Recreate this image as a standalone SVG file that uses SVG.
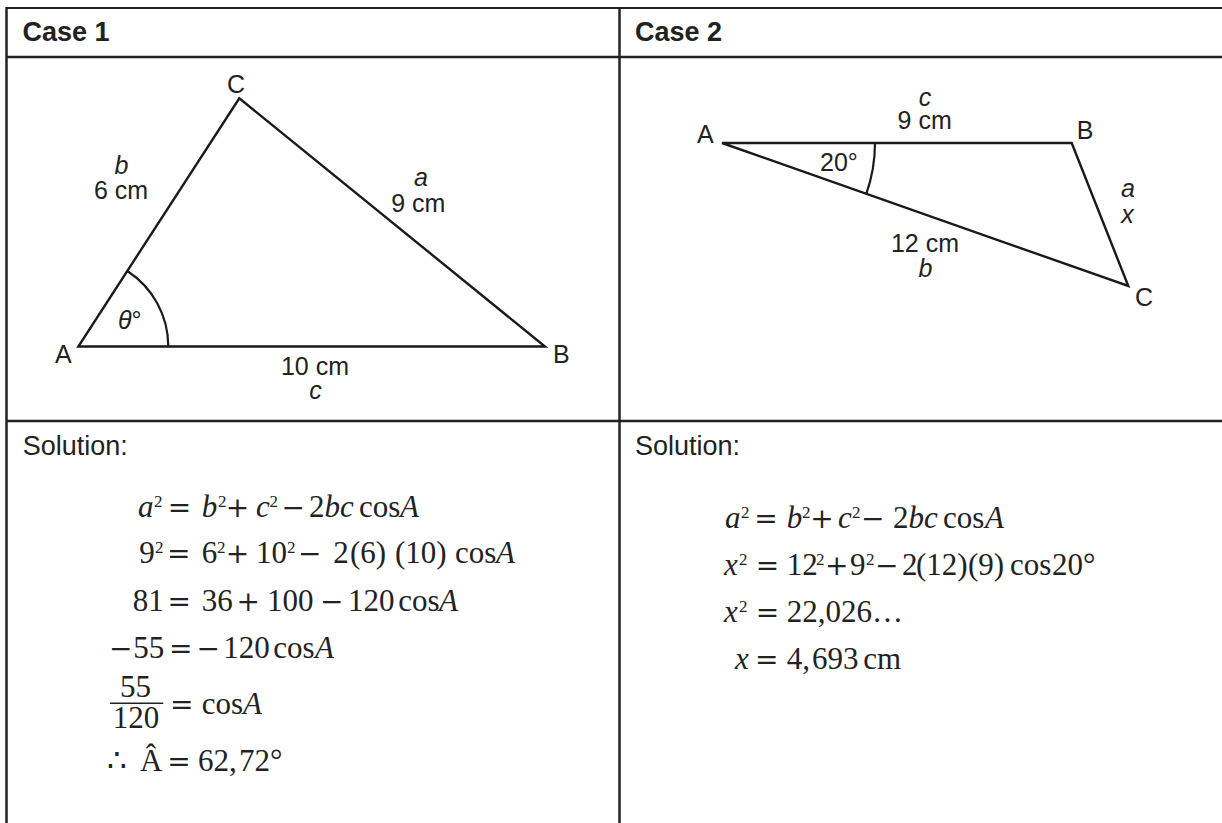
<svg xmlns="http://www.w3.org/2000/svg" width="1222" height="823" viewBox="0 0 1222 823">
<style>
.bg{fill:#fff}
.grid{stroke:#222;stroke-width:2.5;fill:none}
.edge{stroke:#1a1a1a;stroke-width:2.4;fill:none;stroke-linejoin:miter}
.arc{stroke:#1a1a1a;stroke-width:2.2;fill:none}
.hd{font-family:"Liberation Sans",Arial,sans-serif;font-weight:bold;font-size:27px;fill:#222}
.sol{font-family:"Liberation Sans",Arial,sans-serif;font-size:27px;fill:#222}
.lb{font-family:"Liberation Sans",Arial,sans-serif;font-size:25px;fill:#222}
.lbm{font-family:"Liberation Sans",Arial,sans-serif;font-size:25px;fill:#222;text-anchor:middle}
.it{font-style:italic}
.m{font-family:"Liberation Serif","Times New Roman","DejaVu Serif",serif;font-size:31px;fill:#222}
.o{font-family:"DejaVu Serif",serif;font-size:28px}
.s{font-size:17px}
</style>
<rect class="bg" x="0" y="0" width="1222" height="823"/>

<g id="table">
  <line class="grid" x1="6" y1="8" x2="1222" y2="8" style="stroke-width:2"/>
  <line class="grid" x1="6" y1="57" x2="1222" y2="57"/>
  <line class="grid" x1="6" y1="421" x2="1222" y2="421"/>
  <line class="grid" x1="6.5" y1="7" x2="6.5" y2="823"/>
  <line class="grid" x1="619.5" y1="7" x2="619.5" y2="823"/>
</g>

<g id="case1-header">
  <text class="hd" x="22.5" y="41">Case 1</text>
</g>
<g id="case2-header">
  <text class="hd" x="635" y="41">Case 2</text>
</g>

<g id="case1-figure">
  <polygon class="edge" points="78.3,346.5 545,346.5 239.3,98.3"/>
  <path class="arc" d="M168.3,346.5 A90,90 0 0,0 127.3,271"/>
  <text class="lbm" x="236" y="92.7">C</text>
  <text class="lbm it" x="121.5" y="174">b</text>
  <text class="lbm" x="121" y="199.3">6 cm</text>
  <text class="lbm it" x="421" y="186">a</text>
  <text class="lbm" x="418.3" y="212">9 cm</text>
  <text class="lb" x="55" y="363.3">A</text>
  <text class="lb" x="118" y="329.3"><tspan class="it">θ</tspan>°</text>
  <text class="lbm" x="315" y="375">10 cm</text>
  <text class="lbm it" x="315.5" y="399.3">c</text>
  <text class="lb" x="553" y="362.7">B</text>
</g>

<g id="case2-figure">
  <polygon class="edge" points="722,143 1071.7,143 1128.3,286"/>
  <path class="arc" d="M875,143 A153,153 0 0,1 866.3,193.8"/>
  <text class="lb" x="697" y="143.3">A</text>
  <text class="lb" x="1076.7" y="139.3">B</text>
  <text class="lbm it" x="925" y="106">c</text>
  <text class="lbm" x="924.7" y="129.3">9 cm</text>
  <text class="lb" x="820" y="170.7">20°</text>
  <text class="lbm it" x="1128" y="196.7">a</text>
  <text class="lbm it" x="1127.5" y="222.7">x</text>
  <text class="lbm" x="925" y="251.7">12 cm</text>
  <text class="lbm it" x="925.5" y="276.7">b</text>
  <text class="lb" x="1135" y="306">C</text>
</g>

<g id="case1-solution">
  <text class="sol" x="22.7" y="455">Solution:</text>
  <text class="m" y="517"><tspan x="138" class="it">a</tspan><tspan x="154" y="507" class="s">2</tspan><tspan x="167.8" y="517" class="o">=</tspan><tspan x="201.7" class="it">b</tspan><tspan x="218" y="507" class="s">2</tspan><tspan x="225.8" y="517" class="o">+</tspan><tspan x="256" class="it">c</tspan><tspan x="269.5" y="507" class="s">2</tspan><tspan x="281.6" y="517" class="o">−</tspan><tspan x="309">2</tspan><tspan class="it">bc</tspan><tspan x="359">cos</tspan><tspan x="400" class="it">A</tspan></text>
  <text class="m" y="563.3"><tspan x="139.3">9</tspan><tspan x="155" y="553.3" class="s">2</tspan><tspan x="167.1" y="563.3" class="o">=</tspan><tspan x="201.7">6</tspan><tspan x="217" y="553.3" class="s">2</tspan><tspan x="225.8" y="563.3" class="o">+</tspan><tspan x="256">10</tspan><tspan x="287" y="553.3" class="s">2</tspan><tspan x="298" y="563.3" class="o">−</tspan><tspan x="333.3">2</tspan><tspan x="350">(6)</tspan><tspan x="395">(10)</tspan><tspan x="455">cos</tspan><tspan x="496" class="it">A</tspan></text>
  <text class="m" y="611"><tspan x="132.7">81</tspan><tspan x="167.5" class="o">=</tspan><tspan x="201.7">36</tspan><tspan x="236.6" class="o">+</tspan><tspan x="267">100</tspan><tspan x="320" class="o">−</tspan><tspan x="348">120</tspan><tspan x="398.3">cos</tspan><tspan x="439" class="it">A</tspan></text>
  <text class="m" y="658.3"><tspan x="109.1" class="o">−</tspan><tspan x="133.3">55</tspan><tspan x="169.1" class="o">=</tspan><tspan x="196.6" class="o">−</tspan><tspan x="223.3">120</tspan><tspan x="273.3">cos</tspan><tspan x="315" class="it">A</tspan></text>
  <text class="m" x="120" y="696.7">55</text>
  <line x1="110" y1="703.3" x2="163.3" y2="703.3" stroke="#222" stroke-width="1.6"/>
  <text class="m" x="112.7" y="728.3">120</text>
  <text class="m" y="713.5"><tspan x="170" class="o">=</tspan><tspan x="201.7">cos</tspan><tspan x="243" class="it">A</tspan></text>
  <text class="m" y="770.7"><tspan x="107">∴</tspan><tspan x="140">Â</tspan><tspan x="167.3" class="o">=</tspan><tspan x="198">62,</tspan><tspan x="239">72</tspan><tspan x="270">°</tspan></text>
</g>

<g id="case2-solution">
  <text class="sol" x="635" y="455">Solution:</text>
  <text class="m" y="528"><tspan x="725" class="it">a</tspan><tspan x="741" y="518" class="s">2</tspan><tspan x="754.3" y="528" class="o">=</tspan><tspan x="786.7" class="it">b</tspan><tspan x="802" y="518" class="s">2</tspan><tspan x="810.3" y="528" class="o">+</tspan><tspan x="838" class="it">c</tspan><tspan x="852" y="518" class="s">2</tspan><tspan x="861" y="528" class="o">−</tspan><tspan x="893">2</tspan><tspan class="it">bc</tspan><tspan x="943">cos</tspan><tspan x="985" class="it">A</tspan></text>
  <text class="m" y="575"><tspan x="724" class="it">x</tspan><tspan x="739" y="565" class="s">2</tspan><tspan x="755.8" y="575" class="o">=</tspan><tspan x="786.7">12</tspan><tspan x="816" y="565" class="s">2</tspan><tspan x="825" y="575" class="o">+</tspan><tspan x="850">9</tspan><tspan x="866" y="565" class="s">2</tspan><tspan x="875" y="575" class="o">−</tspan><tspan x="902">2</tspan><tspan x="916">(12)</tspan><tspan x="968">(9)</tspan><tspan x="1010">cos</tspan><tspan x="1052">20</tspan><tspan x="1083">°</tspan></text>
  <text class="m" y="621.7"><tspan x="724" class="it">x</tspan><tspan x="739" y="611.7" class="s">2</tspan><tspan x="755.8" y="621.7" class="o">=</tspan><tspan x="786.7">22,026…</tspan></text>
  <text class="m" y="669.3"><tspan x="735" class="it">x</tspan><tspan x="755" class="o">=</tspan><tspan x="786.7">4,</tspan><tspan x="812">693</tspan><tspan x="863.3">cm</tspan></text>
</g>
</svg>
